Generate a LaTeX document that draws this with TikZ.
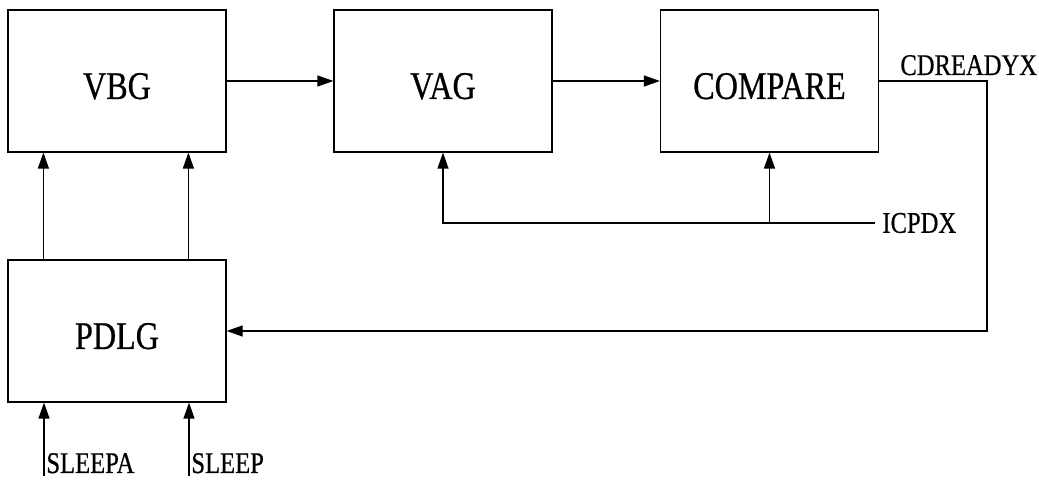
\documentclass[tikz,border=0pt]{standalone}
\usepackage{fontspec}
\setmainfont{Liberation Serif}[FakeStretch=0.82]
\newfontfamily\blkfont{Liberation Serif}[FakeStretch=0.82,FakeBold=0.6]
\usetikzlibrary{arrows.meta,positioning}

\begin{document}
\begin{tikzpicture}[x=0.5pt,y=-0.5pt]
\tikzset{
    block/.style={draw,line width=0.6pt,minimum width=109pt,minimum height=71pt,inner sep=0pt,
      text height=18pt,text depth=0pt,font=\blkfont\fontsize{19.6}{22}\selectfont},
    pin/.style={font=\blkfont\fontsize{15}{17}\selectfont},
    sig/.style={-{Triangle[length=8pt,width=5.5pt]},line width=0.6pt}
}
\useasboundingbox (0,0) rectangle (1039,480);
  % blocks
\node[block] (vbg) at (117,81) {VBG};
\node[block] (vag) at (443,81) {VAG};
\node[block] (cmp) at (769.5,81) {COMPARE};
\node[block] (pdlg) at (117,331) {PDLG};
  % pins
\node[pin,anchor=base west,inner sep=3pt] (cdr) at (894,75) {CDREADYX};
\node[pin,anchor=west,inner sep=3.5pt] (icpdx) at (875,223) {ICPDX};
\node[pin,anchor=base west,inner sep=1pt] (sleepa) at (44,473) {SLEEPA};
\node[pin,anchor=base west,inner sep=1pt] (sleep) at (189,473) {SLEEP};
\coordinate (turn) at (987,331);
% edges
\draw[sig] (vbg.east) -- (vag.west);
\draw[sig] (vag.east) -- (cmp.west);
\draw[sig] (cmp.east) -| (turn) -- (pdlg.east);
\draw[sig] (icpdx.west) -| (vag.south);
\draw[sig] (cmp.south |- icpdx.west) -- (cmp.south);
\draw[sig] ([xshift=18pt]pdlg.north west) -- ([xshift=18pt]vbg.south west);
\draw[sig] ([xshift=90.5pt]pdlg.north west) -- ([xshift=90.5pt]vbg.south west);
\draw[sig] (sleepa.south west) -- (sleepa.south west |- pdlg.south);
\draw[sig] (sleep.south west) -- (sleep.south west |- pdlg.south);
\end{tikzpicture}
\end{document}
